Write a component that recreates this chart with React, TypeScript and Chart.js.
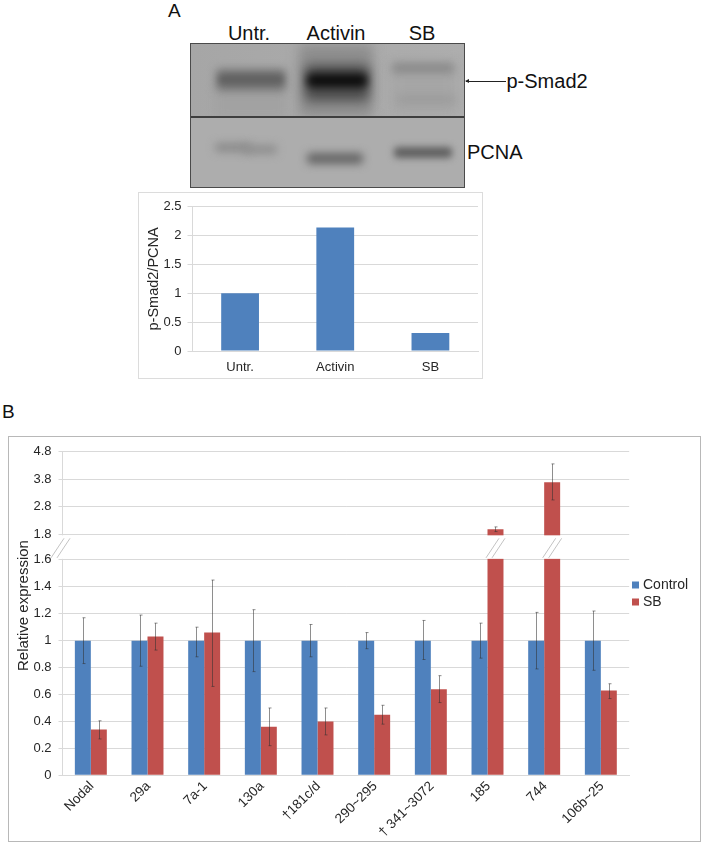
import React, { useEffect, useRef } from "react";
import { Chart, LinearScale, registerables } from "chart.js";

const FONT = "'Liberation Sans', Arial, sans-serif";

// Panel A
const blotLabels = ["Untr.", "Activin", "SB"];
const ratioValues = [1, 2.14, 0.31];

// Panel B
const categories = ["Nodal", "29a", "7a-1", "130a", "†181c/d", "290~295", "† 341~3072", "185", "744", "106b~25"];
const controlValues = [1, 1, 1, 1, 1, 1, 1, 1, 1, 1];
const controlErrLow = [0.83, 0.81, 0.88, 0.77, 0.88, 0.94, 0.86, 0.87, 0.79, 0.78];
const controlErrHigh = [1.17, 1.19, 1.1, 1.23, 1.12, 1.06, 1.15, 1.13, 1.21, 1.22];
const sbValues = [0.34, 1.03, 1.06, 0.36, 0.4, 0.45, 0.64, 1.98, 3.69, 0.63];
const sbErrLow = [0.27, 0.93, 0.66, 0.22, 0.3, 0.38, 0.54, 1.9, 3.05, 0.57];
const sbErrHigh = [0.405, 1.13, 1.45, 0.5, 0.5, 0.52, 0.74, 2.07, 4.36, 0.68];
const yTickValues = [0, 0.2, 0.4, 0.6, 0.8, 1, 1.2, 1.4, 1.6, 1.8, 2.8, 3.8, 4.8];
const BREAK_LOW = 1.6;
const BREAK_HIGH = 1.8;
const BREAK_LOW_FRAC = 219.3 / 329.3;
const BREAK_HIGH_FRAC = 245.3 / 329.3;
const BROKEN_CATEGORIES = ["185", "744"];

class BrokenScale extends LinearScale {
  static id = "broken";
  static defaults = LinearScale.defaults;
  buildTicks() {
    this.start = this.min;
    this.end = this.max;
    return yTickValues.map((value) => ({ value }));
  }
  getPixelForValue(value: number) {
    if (value === null || value === undefined || isNaN(value)) return NaN;
    let f;
    if (value <= BREAK_LOW) f = (value / BREAK_LOW) * BREAK_LOW_FRAC;
    else if (value >= BREAK_HIGH)
      f = BREAK_HIGH_FRAC + ((value - BREAK_HIGH) / (this.max - BREAK_HIGH)) * (1 - BREAK_HIGH_FRAC);
    else f = BREAK_LOW_FRAC + ((value - BREAK_LOW) / (BREAK_HIGH - BREAK_LOW)) * (BREAK_HIGH_FRAC - BREAK_LOW_FRAC);
    return this.getPixelForDecimal(f);
  }
  getValueForPixel(pixel: number) {
    const f = this.getDecimalForPixel(pixel);
    if (f <= BREAK_LOW_FRAC) return (f / BREAK_LOW_FRAC) * BREAK_LOW;
    if (f >= BREAK_HIGH_FRAC) return BREAK_HIGH + ((f - BREAK_HIGH_FRAC) / (1 - BREAK_HIGH_FRAC)) * (this.max - BREAK_HIGH);
    return BREAK_LOW + ((f - BREAK_LOW_FRAC) / (BREAK_HIGH_FRAC - BREAK_LOW_FRAC)) * (BREAK_HIGH - BREAK_LOW);
  }
  drawTitle() {
    const t = this.top;
    this.top -= 16;
    super.drawTitle();
    this.top = t;
  }
}

Chart.register(...registerables, BrokenScale);

const errorsByDataset = [
  { low: controlErrLow, high: controlErrHigh },
  { low: sbErrLow, high: sbErrHigh },
];

const slashes = (ctx: CanvasRenderingContext2D, x: number, top: number, bottom: number) => {
  ctx.save();
  ctx.strokeStyle = "#b4b4b4";
  ctx.lineWidth = 0.8;
  ctx.beginPath();
  for (const dx of [0, 6]) {
    ctx.moveTo(x + dx - 6.5, bottom - 1);
    ctx.lineTo(x + dx + 6.5, top + 3);
  }
  ctx.stroke();
  ctx.restore();
};

const brokenAxisPlugin = {
  id: "brokenAxis",
  afterLayout(chart: any) {
    const l = chart.legend;
    if (l) {
      l.left = 623;
      l.bottom -= 100;
    }
  },
  afterDatasetsDraw(chart: any) {
    const { ctx, scales, chartArea } = chart;
    const y = scales.y;
    ctx.save();
    errorsByDataset.forEach((err, i) => {
      const meta = chart.getDatasetMeta(i);
      meta.data.forEach((bar: any, j: number) => {
        const x = Math.round(bar.x) + 0.5;
        const y1 = y.getPixelForValue(err.low[j]);
        const y2 = y.getPixelForValue(err.high[j]);
        ctx.strokeStyle = "rgba(50,50,50,0.55)";
        ctx.lineWidth = 1;
        ctx.beginPath();
        ctx.moveTo(x, y1);
        ctx.lineTo(x, y2);
        ctx.moveTo(x - 1, y1);
        ctx.lineTo(x + 2, y1);
        ctx.moveTo(x - 1, y2);
        ctx.lineTo(x + 2, y2);
        ctx.stroke();
      });
    });
    const top = y.getPixelForValue(BREAK_HIGH) + 1;
    const bottom = y.getPixelForValue(BREAK_LOW) - 1;
    ctx.fillStyle = "#fff";
    ctx.fillRect(chartArea.left - 2, top, chartArea.right - chartArea.left + 4, bottom - top);
    ctx.restore();
    slashes(ctx, chartArea.left - 5, top, bottom);
    const sbMeta = chart.getDatasetMeta(1);
    categories.forEach((c, j) => {
      if (BROKEN_CATEGORIES.includes(c)) slashes(ctx, sbMeta.data[j].x - 3, top, bottom);
    });
  },
};

const gridColor = "#d9d9d9";
const textColor = "#262626";

function Panel({ style, children }: any) {
  return <div style={{ position: "absolute", boxSizing: "border-box", ...style }}>{children}</div>;
}

function Label({ x, y, size = 20, align = "left", children }: any) {
  const tx = align === "center" ? "translate(-50%,-50%)" : "translate(0,-50%)";
  return (
    <div
      style={{
        position: "absolute",
        left: x,
        top: y,
        transform: tx,
        font: `${size}px ${FONT}`,
        color: "#111",
        whiteSpace: "nowrap",
        lineHeight: 1,
      }}
    >
      {children}
    </div>
  );
}

// Blurred blobs of the photographed blot, relative to each membrane strip
const topBands = [
  { l: 108, t: 0, w: 74, h: 73, c: "#8e8e8e", b: 6 },
  { l: 24, t: 45, w: 72, h: 30, c: "#a2a2a2", b: 5 },
  { l: 200, t: 20, w: 66, h: 50, c: "#a6a6a6", b: 6 },
  { l: 25, t: 25, w: 70, h: 22, c: "#757575", b: 4 },
  { l: 28, t: 31, w: 64, h: 9, c: "#606060", b: 3 },
  { l: 114, t: 21, w: 64, h: 36, c: "#4d4d4d", b: 6 },
  { l: 116, t: 30, w: 60, h: 13, c: "#0a0a0a", b: 4 },
  { l: 201, t: 19, w: 62, h: 10, c: "#898989", b: 4 },
  { l: 206, t: 51, w: 58, h: 9, c: "#9c9c9c", b: 4 },
];
const bottomBands = [
  { l: 24, t: 25, w: 36, h: 9, c: "#8a8a8a", b: 4 },
  { l: 52, t: 27, w: 34, h: 9, c: "#8e8e8e", b: 4 },
  { l: 116, t: 35, w: 56, h: 11, c: "#666", b: 4 },
  { l: 203, t: 29, w: 58, h: 11, c: "#606060", b: 3.5 },
];

function Bands({ list }: any) {
  return list.map((b: any, i: number) => (
    <div
      key={i}
      style={{
        position: "absolute",
        left: b.l,
        top: b.t,
        width: b.w,
        height: b.h,
        background: b.c,
        borderRadius: 4,
        filter: `blur(${b.b}px)`,
      }}
    />
  ));
}

export default function App() {
  const aRef = useRef<HTMLCanvasElement>(null);
  const bRef = useRef<HTMLCanvasElement>(null);

  useEffect(() => {
    const chartA = new Chart(aRef.current!, {
      type: "bar",
      data: {
        labels: blotLabels,
        datasets: [
          {
            label: "p-Smad2/PCNA",
            data: ratioValues,
            backgroundColor: "#4f81bd",
            categoryPercentage: 0.397,
            barPercentage: 1,
          },
        ],
      },
      options: {
        animation: false,
        responsive: false,
        layout: { autoPadding: false, padding: { top: 9, right: 4, left: 0, bottom: 0 } },
        plugins: { legend: { display: false }, tooltip: { enabled: false } },
        scales: {
          x: {
            grid: { display: false, drawTicks: false },
            border: { color: gridColor },
            ticks: { font: { family: FONT, size: 13 }, color: textColor, padding: 9, maxRotation: 0 },
            afterFit: (s: any) => {
              s.height = 27;
            },
          },
          y: {
            min: 0,
            max: 2.5,
            ticks: {
              stepSize: 0.5,
              font: { family: FONT, size: 13 },
              color: textColor,
              padding: 6,
              callback: (v: any) => String(v),
            },
            grid: { color: gridColor, tickLength: 5, tickColor: gridColor },
            border: { color: gridColor },
            title: {
              display: true,
              text: "p-Smad2/PCNA",
              font: { family: FONT, size: 14.5 },
              color: textColor,
              padding: { top: 6, bottom: 0 },
            },
            afterFit: (s: any) => {
              s.width = 53.5;
            },
          },
        },
      },
    } as any);

    const chartB = new Chart(bRef.current!, {
      type: "bar",
      plugins: [brokenAxisPlugin],
      data: {
        labels: categories,
        datasets: [
          { label: "Control", data: controlValues, backgroundColor: "#4f81bd", categoryPercentage: 0.564, barPercentage: 1 },
          { label: "SB", data: sbValues, backgroundColor: "#c0504d", categoryPercentage: 0.564, barPercentage: 1 },
        ],
      },
      options: {
        animation: false,
        responsive: false,
        layout: { autoPadding: false, padding: { top: 9, right: 4.7, left: 0, bottom: 0 } },
        plugins: {
          tooltip: { enabled: false },
          legend: {
            position: "right",
            labels: {
              boxWidth: 1,
              boxHeight: 1,
              padding: 3,
              color: textColor,
              font: { family: FONT, size: 14 },
              generateLabels: (chart: any) =>
                Chart.defaults.plugins.legend.labels
                  .generateLabels(chart)
                  .map((l: any) => ({ ...l, lineWidth: 6, strokeStyle: l.fillStyle })),
            },
          },
        },
        scales: {
          x: {
            grid: { display: false, drawTicks: false },
            border: { color: gridColor },
            ticks: {
              font: { family: FONT, size: 13.5 },
              color: textColor,
              minRotation: 45,
              maxRotation: 45,
              padding: 3,
              labelOffset: 1,
              autoSkip: false,
            },
            afterFit: (s: any) => {
              s.height = 65.7;
            },
          },
          y: {
            type: "broken",
            min: 0,
            max: 4.8,
            ticks: {
              autoSkip: false,
              font: { family: FONT, size: 13 },
              color: textColor,
              padding: 7,
              callback: (v: any) => String(v),
            },
            grid: { color: gridColor, tickLength: 4, tickColor: gridColor },
            border: { color: gridColor },
            title: {
              display: true,
              text: "Relative expression",
              font: { family: FONT, size: 15 },
              color: textColor,
              padding: { top: 6, bottom: 0 },
            },
            afterFit: (s: any) => {
              s.width = 53.5;
            },
          },
        },
      },
    } as any);

    return () => {
      chartA.destroy();
      chartB.destroy();
    };
  }, []);

  return (
    <div
      style={{
        position: "absolute",
        left: 0,
        top: 0,
        width: 704,
        height: 845,
        background: "#fff",
        overflow: "hidden",
      }}
    >
      <Label x={168} y={10} size={19}>A</Label>
      <Label x={249} y={33} align="center">{blotLabels[0]}</Label>
      <Label x={336} y={33} align="center">{blotLabels[1]}</Label>
      <Label x={422} y={33} align="center">{blotLabels[2]}</Label>

      {/* Western blot picture */}
      <Panel style={{ left: 190, top: 43, width: 275, height: 145, border: "1px solid #4a4a4a", background: "#3e3e3e" }}>
        <div
          style={{
            position: "absolute",
            left: 0,
            top: 0,
            width: 273,
            height: 72,
            overflow: "hidden",
            background: "linear-gradient(90deg,#a6a6a6 0%,#aeaeae 100%)",
          }}
        >
          <Bands list={topBands} />
        </div>
        <div
          style={{
            position: "absolute",
            left: 0,
            top: 74,
            width: 273,
            height: 69,
            overflow: "hidden",
            background: "#adadad",
          }}
        >
          <Bands list={bottomBands} />
        </div>
      </Panel>

      {/* arrow */}
      <div style={{ position: "absolute", left: 466, top: 81, width: 40, height: 1, background: "#222" }} />
      <div
        style={{
          position: "absolute",
          left: 464.5,
          top: 79,
          width: 0,
          height: 0,
          borderTop: "2.5px solid transparent",
          borderBottom: "2.5px solid transparent",
          borderRight: "4px solid #222",
        }}
      />
      <Label x={506.5} y={81}>p-Smad2</Label>
      <Label x={467} y={152}>PCNA</Label>

      <Panel style={{ left: 138, top: 192, width: 345, height: 187, border: "1px solid #dcdcdc" }}>
        <canvas ref={aRef} width={343} height={185} style={{ display: "block" }} />
      </Panel>

      <Label x={2} y={411} size={19}>B</Label>

      <Panel style={{ left: 8, top: 436, width: 693, height: 406, border: "1px solid #b8b8b8" }}>
        <canvas ref={bRef} width={691} height={404} style={{ display: "block" }} />
      </Panel>
    </div>
  );
}
